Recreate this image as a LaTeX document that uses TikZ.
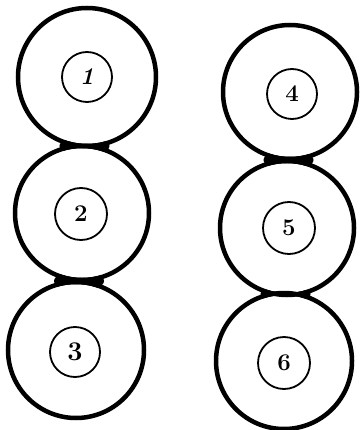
\documentclass[tikz,border=0pt]{standalone}
\usetikzlibrary{calc}
\begin{document}
\begin{tikzpicture}[x=1pt,y=-1pt,
  outer/.style={circle,draw,line width=4.5pt,inner sep=0pt},
  inner/.style={circle,draw,line width=1.8pt,inner sep=0pt,minimum size=50pt,font=\fontsize{24}{24}\selectfont\bfseries},
  blob/.style={fill=black},
  hole/.style={fill=white}]
\fill[white] (0,0) rectangle (360,430);
\useasboundingbox (0,0) rectangle (360,430);
% centres
\coordinate (c1) at (87,77);
\coordinate (c2) at (82,213);
\coordinate (c3) at (76,350);
\coordinate (c4) at (290,92);
\coordinate (c5) at (287,228);
\coordinate (c6) at (284,361);
% junction blobs between touching circles
\fill[blob] ($(c1)!{69/136}!(c2)$) ellipse [x radius=25, y radius=10];
\fill[blob] ($(c2)!{67/135}!(c3)$) ellipse [x radius=25, y radius=10];
\fill[blob] ($(c4)!{67/134}!(c5)$) ellipse [x radius=25, y radius=10];
\fill[blob] ($(c5)!{67/135}!(c6)$) ellipse [x radius=25, y radius=10];
% white interiors
\fill[hole] (c1) circle[radius=66.75];
\fill[hole] (c2) circle[radius=64.75];
\fill[hole] (c3) circle[radius=65.75];
\fill[hole] (c4) circle[radius=64.75];
\fill[hole] (c5) circle[radius=64.75];
\fill[hole] (c6) circle[radius=65.75];
% outer circles
\node[outer,minimum size=138pt] (o1) at (c1) {};
\node[outer,minimum size=134pt] (o2) at (c2) {};
\node[outer,minimum size=136pt] (o3) at (c3) {};
\node[outer,minimum size=134pt] (o4) at (c4) {};
\node[outer,minimum size=134pt] (o5) at (c5) {};
\node[outer,minimum size=136pt] (o6) at (c6) {};
% inner circles with numbers
\node[inner] (i1) at (87,77) {\itshape 1};
\node[inner,minimum size=52pt] (i2) at (81,214) {2};
\node[inner] (i3) at (75,352) {\fontsize{27}{27}\selectfont 3};
\node[inner] (i4) at (292,94) {4};
\node[inner,minimum size=52pt] (i5) at (289,228) {5};
\node[inner,minimum size=52pt] (i6) at (284,363) {6};
\end{tikzpicture}
\end{document}
